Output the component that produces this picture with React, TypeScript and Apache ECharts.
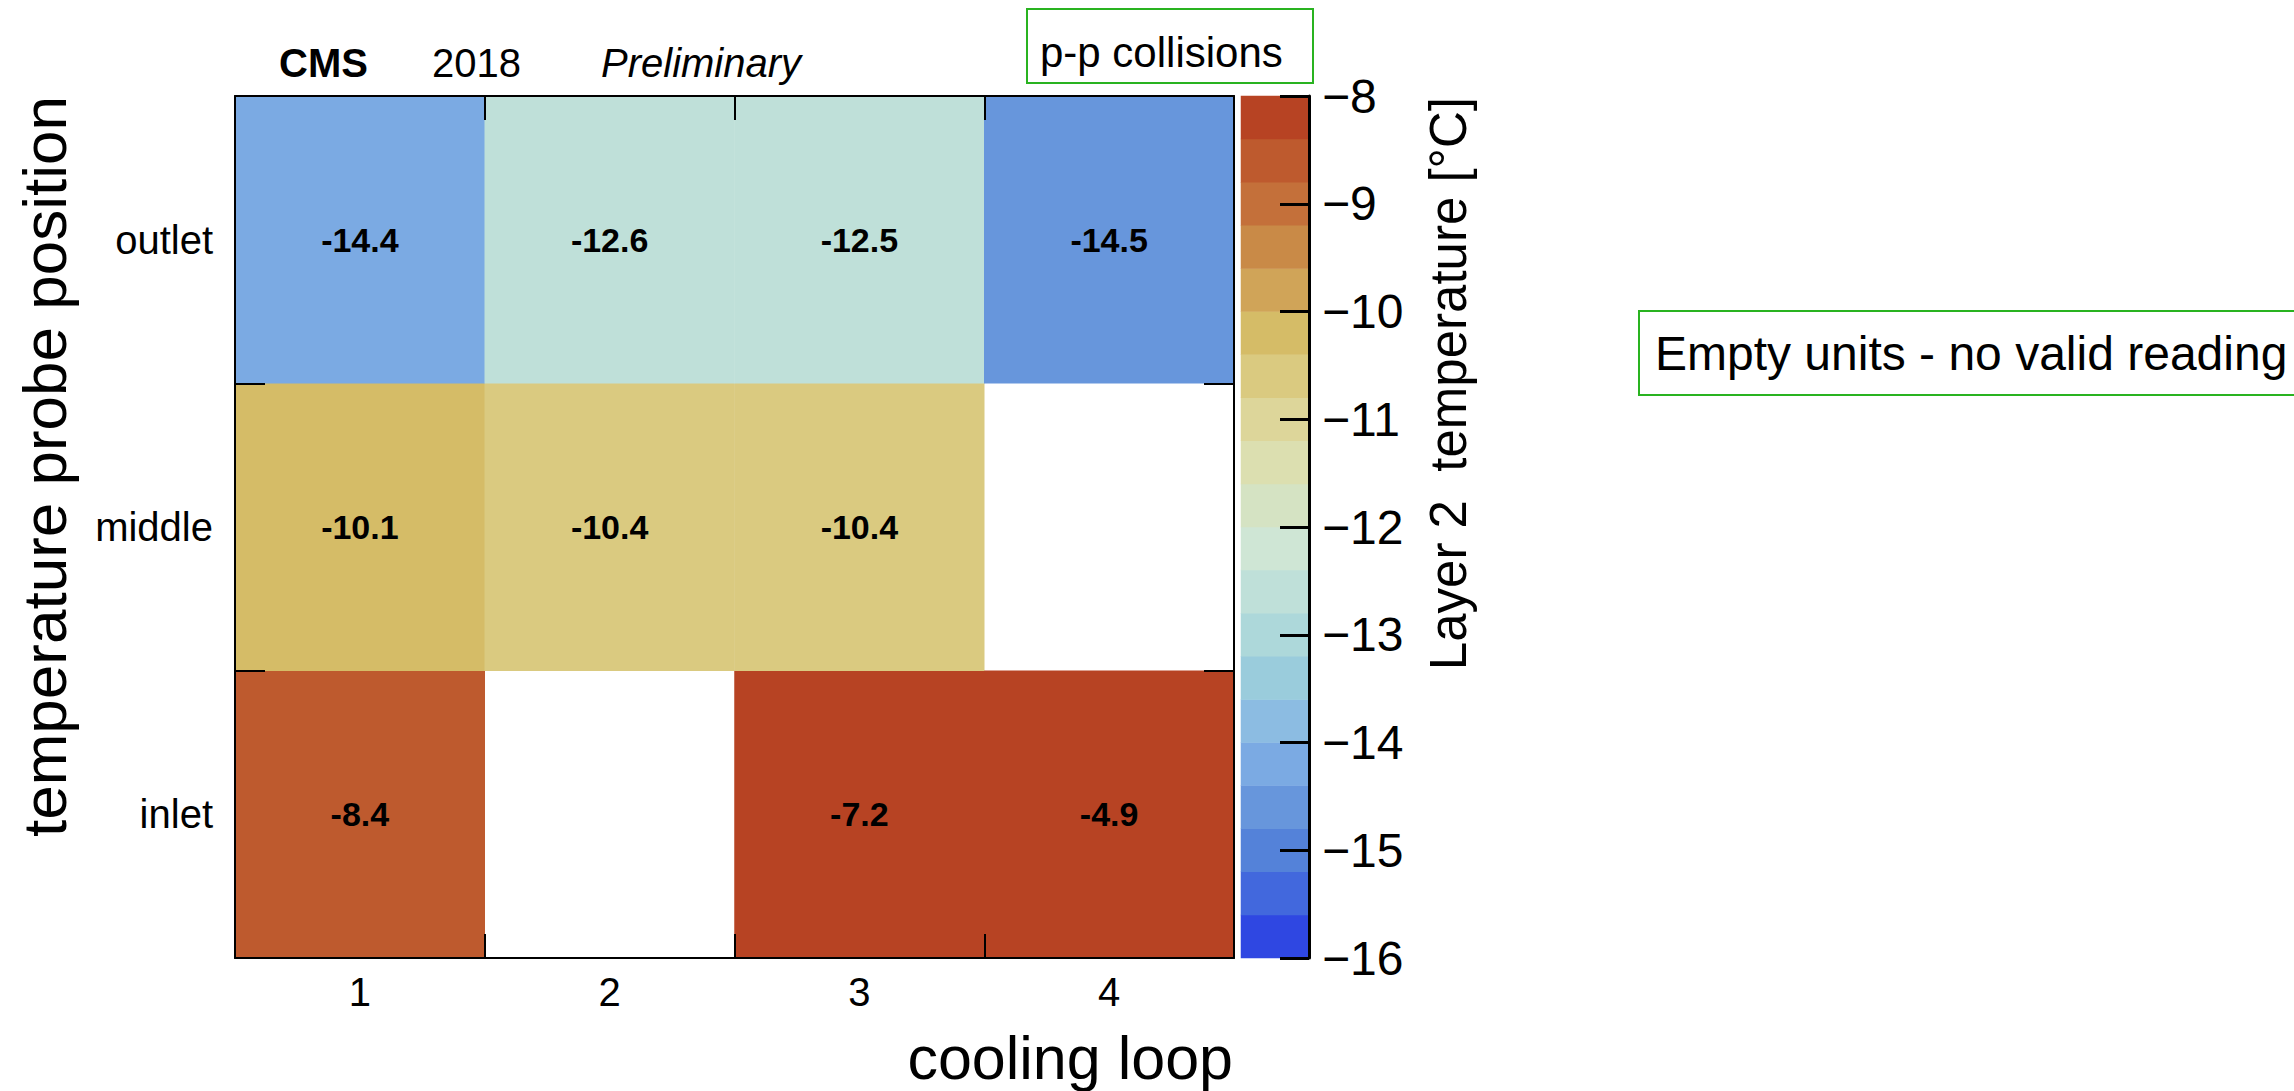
import React, { useEffect, useRef } from "react";
import * as echarts from "echarts";

// ---- data ----
const coolingLoops = ["1", "2", "3", "4"];
const probePositions = ["inlet", "middle", "outlet"]; // bottom -> top
// temperatures per probe position, one per cooling loop (null = empty unit)
const outletTemps = [-14.38, -12.6, -12.5, -14.5];
const middleTemps = [-10.1, -10.42, -10.43, null];
const inletTemps = [-8.42, null, -7.2, -4.9];
const tempsByPosition = [inletTemps, middleTemps, outletTemps];

// colour scale (bottom -> top)
const scaleMin = -16;
const scaleMax = -8;
const scaleInterval = 1;
const paletteColors = [
  "#2F47E2", "#4268DD", "#5482D9", "#6796DC", "#7BAAE3",
  "#8CBCE2", "#9ACCDC", "#ADD8DA", "#BFE0D9", "#CFE6D5",
  "#D5E3C3", "#DCDFB0", "#DDD69A", "#DACA80", "#D5BC67",
  "#D0A458", "#C98A47", "#C4703A", "#BE5A2E", "#B74323",
];

// texts
const xTitle = "cooling loop";
const yTitle = "temperature probe position";
const zTitle = "Layer 2  temperature [°C]";
const headerCMS = "CMS";
const headerYear = "2018";
const headerPrelim = "Preliminary";
const collisionsNote = "p-p collisions";
const emptyNote = "Empty units - no valid reading";

const FONT = "'Liberation Sans', Arial, Helvetica, sans-serif";
const GREEN = "#29B320";

export default function App() {
  const ref = useRef<HTMLDivElement>(null);

  useEffect(() => {
    if (!ref.current) return;
    const chart = echarts.init(ref.current, undefined, { renderer: "svg" });

    const heatData: any[] = [];
    tempsByPosition.forEach((row, yi) => {
      row.forEach((v, xi) => {
        if (v !== null && v !== undefined) heatData.push([xi, yi, v]);
      });
    });

    const step = (scaleMax - scaleMin) / paletteColors.length;
    const bandCats = paletteColors.map((_, i) => String(i));
    const barData = paletteColors.map((_, i) => [0, i, scaleMin + (i + 0.5) * step]);
    const last = paletteColors.length - 1;
    const pieces = paletteColors.map((c, i) => {
      const lo = scaleMin + i * step;
      const hi = scaleMin + (i + 1) * step;
      if (i === last) return { gte: lo, color: c };
      if (i === 0) return { lt: hi, color: c };
      return { gte: lo, lt: hi, color: c };
    });

    const axisLine = { show: true, onZero: false, lineStyle: { color: "#000", width: 2 } };
    const barRect = { left: 1241, top: 96, width: 68, height: 862 };

    const option: any = {
      animation: false,
      backgroundColor: "#fff",
      textStyle: { fontFamily: FONT },
      grid: [
        { left: 235, top: 96, width: 999, height: 862 },
        { ...barRect },
        { ...barRect },
      ],
      visualMap: [
        { type: "piecewise", show: false, dimension: 2, seriesIndex: 0, pieces },
        { type: "piecewise", show: false, dimension: 2, seriesIndex: 1, pieces },
      ],
      xAxis: [
        {
          gridIndex: 0, type: "category", data: coolingLoops, position: "bottom", z: 10, axisLine,
          axisTick: { show: true, inside: true, length: 24, lineStyle: { color: "#000", width: 2 } },
          axisLabel: { fontSize: 40, color: "#000", margin: 14, fontFamily: FONT },
          splitLine: { show: false },
        },
        {
          gridIndex: 0, type: "category", data: coolingLoops, position: "top", z: 10, axisLine,
          axisTick: { show: true, inside: true, length: 24, lineStyle: { color: "#000", width: 2 } },
          axisLabel: { show: false },
          splitLine: { show: false },
        },
        { gridIndex: 1, type: "category", data: ["bar"], show: false },
        { gridIndex: 2, type: "value", min: 0, max: 1, show: false },
      ],
      yAxis: [
        {
          gridIndex: 0, type: "category", data: probePositions, position: "left", z: 10, axisLine,
          axisTick: { show: true, inside: true, length: 30, lineStyle: { color: "#000", width: 2 } },
          axisLabel: { fontSize: 40, color: "#000", margin: 22, fontFamily: FONT },
          splitLine: { show: false },
        },
        {
          gridIndex: 0, type: "category", data: probePositions, position: "right", z: 10, axisLine,
          axisTick: { show: true, inside: true, length: 30, lineStyle: { color: "#000", width: 2 } },
          axisLabel: { show: false },
          splitLine: { show: false },
        },
        { gridIndex: 1, type: "category", data: bandCats, show: false },
        {
          gridIndex: 2,
          type: "value",
          min: scaleMin,
          max: scaleMax,
          interval: scaleInterval,
          position: "right",
          zlevel: 1,
          z: 10,
          axisLine: { show: true, onZero: false, lineStyle: { color: "#000", width: 3 } },
          axisTick: { show: true, inside: true, length: 29, lineStyle: { color: "#000", width: 3 } },
          axisLabel: {
            fontSize: 48, color: "#000", margin: 13, fontFamily: FONT,
            showMinLabel: true, showMaxLabel: true,
            formatter: (v: number) => String(v).replace("-", "\u2212"),
          },
          splitLine: { show: false },
        },
      ],
      series: [
        {
          type: "heatmap", xAxisIndex: 0, yAxisIndex: 0, z: 1, data: heatData,
          itemStyle: { borderWidth: 0 },
          emphasis: { disabled: true },
          label: {
            show: true,
            formatter: (p: any) => Number(p.value[2]).toFixed(1),
            fontSize: 34, fontWeight: "bold", color: "#000", fontFamily: FONT,
          },
        },
        {
          type: "heatmap", xAxisIndex: 2, yAxisIndex: 2, z: 1, data: barData, silent: true,
          itemStyle: { borderWidth: 0 },
          emphasis: { disabled: true },
          label: { show: false },
        },
      ],
      graphic: [
        { type: "text", x: 279, y: 63, style: { text: headerCMS, font: `bold 40px ${FONT}`, fill: "#000", verticalAlign: "middle" } },
        { type: "text", x: 432, y: 63, style: { text: headerYear, font: `40px ${FONT}`, fill: "#000", verticalAlign: "middle" } },
        { type: "text", x: 601, y: 63, style: { text: headerPrelim, font: `italic 40px ${FONT}`, fill: "#000", verticalAlign: "middle" } },
        { type: "rect", shape: { x: 1027, y: 9, width: 286, height: 74 }, style: { fill: "#fff", stroke: GREEN, lineWidth: 2 } },
        { type: "text", x: 1040, y: 52, style: { text: collisionsNote, font: `42px ${FONT}`, fill: "#000", verticalAlign: "middle" } },
        { type: "rect", shape: { x: 1639, y: 311, width: 700, height: 84 }, style: { fill: "#fff", stroke: GREEN, lineWidth: 2 } },
        { type: "text", x: 1655, y: 353, style: { text: emptyNote, font: `48px ${FONT}`, fill: "#000", verticalAlign: "middle" } },
        { type: "text", x: 44, y: 96, rotation: Math.PI / 2, style: { text: yTitle, font: `62px ${FONT}`, fill: "#000", align: "right", verticalAlign: "middle" } },
        { type: "text", x: 1448, y: 97, rotation: Math.PI / 2, style: { text: zTitle, font: `51px ${FONT}`, fill: "#000", align: "right", verticalAlign: "middle" } },
        { type: "text", x: 1233, y: 1058, style: { text: xTitle, font: `61px ${FONT}`, fill: "#000", align: "right", verticalAlign: "middle" } },
      ],
    };

    chart.setOption(option);
    return () => chart.dispose();
  }, []);

  return (
    <div ref={ref} style={{ position: "fixed", left: 0, top: 0, width: 2294, height: 1091, background: "#fff" }} />
  );
}
